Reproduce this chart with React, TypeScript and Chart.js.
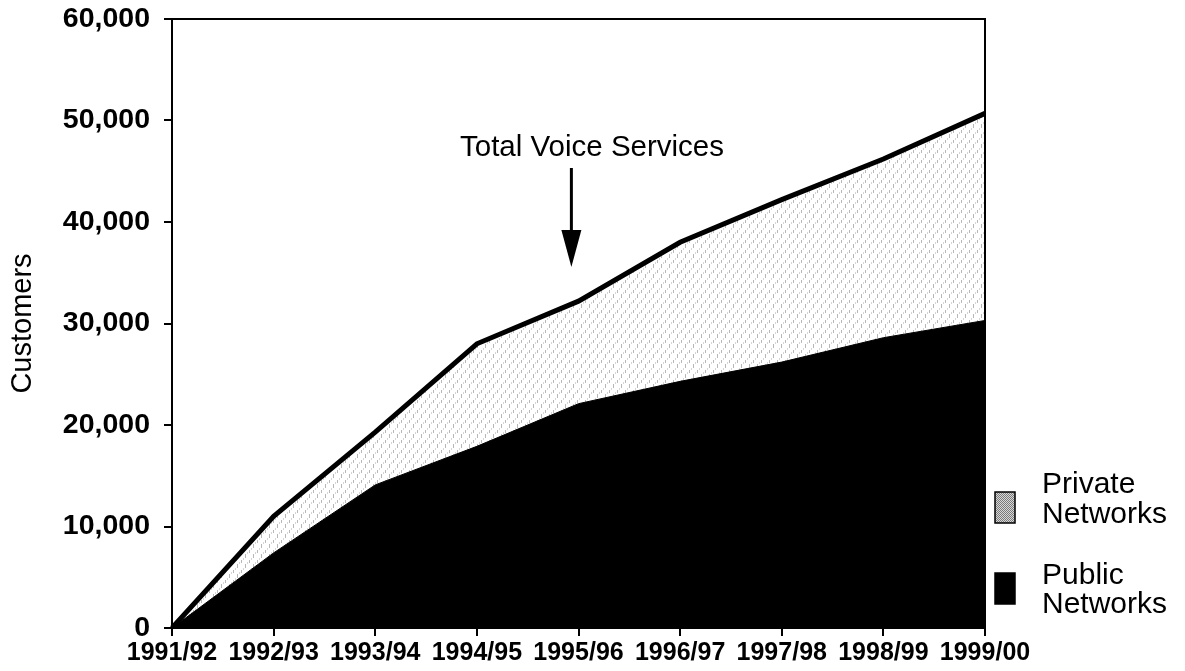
import React, { useEffect, useRef } from "react";
import { Chart, registerables } from "chart.js";

Chart.register(...registerables);

const categories = ["1991/92", "1992/93", "1993/94", "1994/95", "1995/96", "1996/97", "1997/98", "1998/99", "1999/00"];
const totalVoiceServices = [0, 11000, 19300, 28000, 32200, 38000, 42200, 46200, 50700];
const publicNetworks = [0, 7400, 14100, 17900, 22100, 24300, 26200, 28600, 30300];
const yTickValues = [0, 10000, 20000, 30000, 40000, 50000, 60000];
const legendItems = [
  { lines: ["Private", "Networks"], kind: "private" },
  { lines: ["Public", "Networks"], kind: "public" },
];
const annotationText = "Total Voice Services";
const yTitle = "Customers";

const FONT = '"Liberation Sans", Arial, Helvetica, sans-serif';

function makePattern(): CanvasPattern | string {
  const c = document.createElement("canvas");
  c.width = 8;
  c.height = 10;
  const g = c.getContext("2d");
  if (!g) return "#eeeeee";
  g.fillStyle = "#ffffff";
  g.fillRect(0, 0, 8, 10);
  g.fillStyle = "#b8b8b8";
  g.fillRect(1, 0, 1, 3);
  g.fillRect(5, 4, 1, 4);
  g.fillStyle = "#d6d6d6";
  g.fillRect(3, 8, 1, 2);
  g.fillRect(7, 2, 1, 2);
  return g.createPattern(c, "repeat") || "#eeeeee";
}

function makeSwatchPattern(): CanvasPattern | string {
  const c = document.createElement("canvas");
  c.width = 2;
  c.height = 2;
  const g = c.getContext("2d");
  if (!g) return "#aaaaaa";
  g.fillStyle = "#d8d8d8";
  g.fillRect(0, 0, 2, 2);
  g.fillStyle = "#7a7a7a";
  g.fillRect(0, 0, 1, 1);
  g.fillRect(1, 1, 1, 1);
  return g.createPattern(c, "repeat") || "#aaaaaa";
}

export default function App() {
  const ref = useRef<HTMLCanvasElement | null>(null);

  useEffect(() => {
    if (!ref.current) return;
    const privPattern = makePattern();
    const swatchPattern = makeSwatchPattern();

    const decorations = {
      id: "decorations",
      afterDraw(chart: any) {
        const ctx = chart.ctx;
        const a = chart.chartArea;
        ctx.save();
        // frame top & right
        ctx.strokeStyle = "#000";
        ctx.lineWidth = 2;
        ctx.beginPath();
        ctx.moveTo(a.left, a.top);
        ctx.lineTo(a.right, a.top);
        ctx.lineTo(a.right, a.bottom);
        ctx.stroke();

        const xs = chart.scales.x;
        const ys = chart.scales.y;

        // annotation text
        ctx.fillStyle = "#000";
        ctx.font = `29.5px ${FONT}`;
        ctx.textAlign = "center";
        ctx.textBaseline = "alphabetic";
        const ax = xs.getPixelForValue(3.93);
        ctx.fillText(annotationText, 592, 156);

        // arrow
        ctx.lineWidth = 3;
        ctx.beginPath();
        ctx.moveTo(ax, 168);
        ctx.lineTo(ax, 234);
        ctx.stroke();
        ctx.beginPath();
        ctx.moveTo(ax - 10, 230);
        ctx.lineTo(ax + 10, 230);
        ctx.lineTo(ax, 267);
        ctx.closePath();
        ctx.fill();

        // y title
        ctx.save();
        ctx.translate(23, (ys.top + ys.bottom) / 2);
        ctx.rotate(-Math.PI / 2);
        ctx.font = `29px ${FONT}`;
        ctx.textAlign = "center";
        ctx.textBaseline = "middle";
        ctx.fillText(yTitle, 0, 0);
        ctx.restore();

        // legend
        const lx = 995;
        const sw = 20;
        const swH = 31;
        const tops = [492, 573];
        const baselines = [[493, 523], [584, 613]];
        legendItems.forEach((it, i) => {
          ctx.fillStyle = it.kind === "private" ? swatchPattern : "#000";
          ctx.fillRect(lx, tops[i], sw, swH);
          ctx.strokeStyle = "#000";
          ctx.lineWidth = 1.5;
          ctx.strokeRect(lx, tops[i], sw, swH);
          ctx.fillStyle = "#000";
          ctx.font = `30px ${FONT}`;
          ctx.textAlign = "left";
          ctx.textBaseline = "alphabetic";
          it.lines.forEach((t, j) => ctx.fillText(t, 1042, baselines[i][j]));
        });
        ctx.restore();
      },
    };

    const chart = new Chart(ref.current, {
      type: "line",
      data: {
        labels: categories,
        datasets: [
          {
            label: "Public Networks",
            data: publicNetworks,
            fill: "origin",
            backgroundColor: "#000",
            borderColor: "#000",
            borderWidth: 1,
            pointRadius: 0,
            tension: 0,
          },
          {
            label: "Private Networks",
            data: totalVoiceServices,
            fill: "origin",
            backgroundColor: privPattern as any,
            borderColor: "#000",
            borderWidth: 5,
            pointRadius: 0,
            tension: 0,
          },
        ],
      },
      options: {
        responsive: false,
        animation: false,
        layout: { padding: { left: 0, top: 19, right: 200, bottom: 0 } },
        plugins: {
          legend: { display: false },
          tooltip: { enabled: false },
          title: { display: false },
        },
        scales: {
          x: {
            type: "category",
            offset: false,
            grid: { display: true, drawOnChartArea: false, drawTicks: true, tickLength: 8, color: "#000", lineWidth: 2 },
            border: { display: true, color: "#000", width: 2 },
            ticks: {
              color: "#000",
              font: { family: FONT, size: 25, weight: "bold" },
              padding: 2,
              maxRotation: 0,
              autoSkip: false,
            },
            afterFit(scale: any) {
              scale.height = 43;
              scale.paddingLeft = 0;
              scale.paddingRight = 0;
            },
          },
          y: {
            min: 0,
            max: 60000,
            grid: { display: true, drawOnChartArea: false, drawTicks: true, tickLength: 8, color: "#000", lineWidth: 2 },
            border: { display: true, color: "#000", width: 2 },
            afterBuildTicks(scale: any) {
              scale.ticks = yTickValues.map((v) => ({ value: v }));
            },
            ticks: {
              color: "#000",
              font: { family: FONT, size: 28.5, weight: "bold" },
              padding: 14,
              callback: (v: any) => Number(v).toLocaleString("en-US"),
            },
            afterFit(scale: any) {
              scale.width = 172;
              scale.paddingTop = 0;
              scale.paddingBottom = 0;
            },
          },
        },
      },
      plugins: [decorations],
    });
    return () => chart.destroy();
  }, []);

  return (
    <div style={{ position: "fixed", left: 0, top: 0, width: 1185, height: 671, background: "#fff" }}>
      <canvas ref={ref} width={1185} height={671} style={{ display: "block", width: 1185, height: 671 }} />
    </div>
  );
}
